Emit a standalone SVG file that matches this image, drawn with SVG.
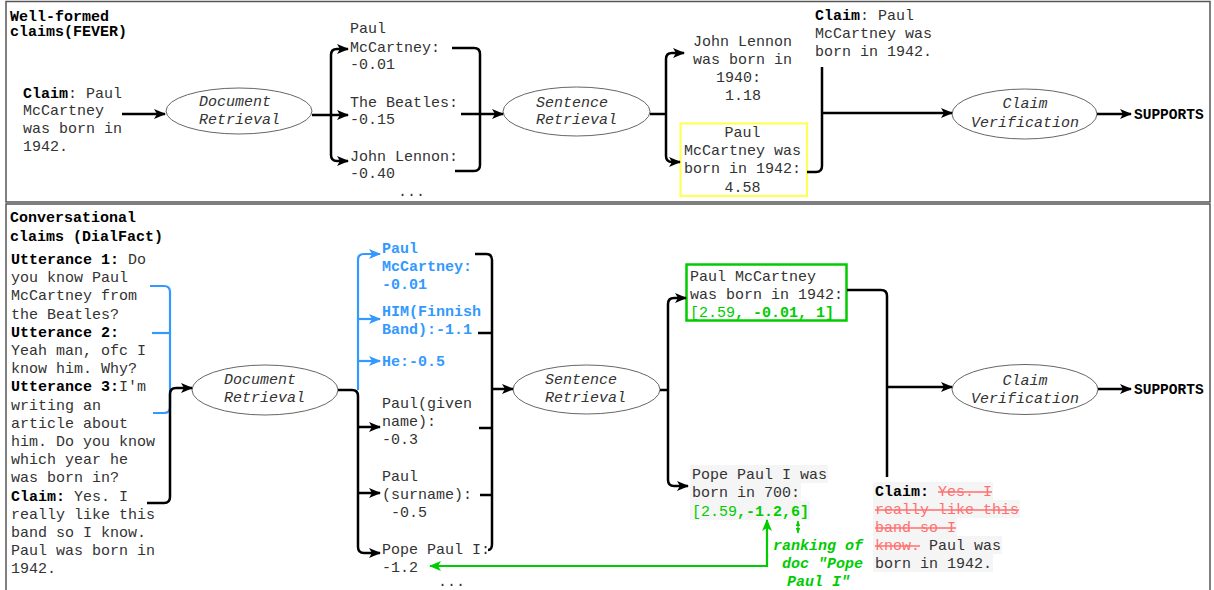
<svg xmlns="http://www.w3.org/2000/svg" width="1214" height="590" viewBox="0 0 1214 590">
<defs>
<style>
.t{font-family:"Liberation Mono","Courier New",monospace;font-size:15px;fill:#333}
.b{font-weight:bold;fill:#000}
.i{font-style:italic}
.bl{font-weight:bold;fill:#3399ff}
.gr{fill:#00cc00}
.gb{fill:#00cc00;font-weight:bold}
.rs{fill:#ff7070;text-decoration:line-through}
.hl{fill:#f5f5f5}
.el{fill:#fff;stroke:#666;stroke-width:1}
.c{fill:none;stroke:#000;stroke-width:2.5}
.cb{fill:none;stroke:#3399ff;stroke-width:2.2}
.cg{fill:none;stroke:#00cc00;stroke-width:2.2}
.frame{fill:#fff;stroke:#555;stroke-width:1.5}
</style>
<marker id="ah" viewBox="0 0 12 10" refX="11" refY="5" markerWidth="12" markerHeight="10" markerUnits="userSpaceOnUse" orient="auto"><path d="M0,0 L12,5 L0,10 L3,5 z" fill="#000"/></marker>
<marker id="ahb" viewBox="0 0 12 10" refX="11" refY="5" markerWidth="12" markerHeight="10" markerUnits="userSpaceOnUse" orient="auto"><path d="M0,0 L12,5 L0,10 L3,5 z" fill="#3399ff"/></marker>
<marker id="ahg" viewBox="0 0 12 10" refX="11" refY="5" markerWidth="12" markerHeight="10" markerUnits="userSpaceOnUse" orient="auto-start-reverse"><path d="M0,0 L12,5 L0,10 L3,5 z" fill="#00cc00"/></marker>
<marker id="ahgs" viewBox="0 0 8 6" refX="7" refY="3" markerWidth="6" markerHeight="5" markerUnits="userSpaceOnUse" orient="auto-start-reverse"><path d="M0,0 L8,3 L0,6 z" fill="#00cc00"/></marker>
</defs>
<rect x="0" y="0" width="1214" height="590" fill="#fff"/>
<rect class="frame" x="6" y="1.5" width="1204" height="200.5"/>
<rect class="frame" x="6" y="204" width="1204" height="400"/>

<!-- ===== Top panel ===== -->
<g id="title-top">
<text class="t b" x="10" y="21">Well-formed</text>
<text class="t b" x="10" y="36">claims(FEVER)</text>
</g>
<g id="claim-top">
<text class="t" x="23" y="97.5"><tspan class="b">Claim</tspan>: Paul</text>
<text class="t" x="23" y="115.3">McCartney</text>
<text class="t" x="23" y="133">was born in</text>
<text class="t" x="23" y="150.8">1942.</text>
</g>
<g id="doc-retrieval-top">
<ellipse class="el" cx="239" cy="111" rx="73" ry="23"/>
<text class="t i" x="199" y="106">Document</text>
<text class="t i" x="199" y="124">Retrieval</text>
</g>
<g id="docs-top">
<text class="t" x="350" y="33.3">Paul</text>
<text class="t" x="350" y="51.7">McCartney:</text>
<text class="t" x="350" y="69.3">-0.01</text>
<text class="t" x="350" y="106.7">The Beatles:</text>
<text class="t" x="350" y="124">-0.15</text>
<text class="t" x="350" y="160.7">John Lennon:</text>
<text class="t" x="350" y="178.3">-0.40</text>
<text class="t" x="398" y="196">...</text>
</g>
<g id="sent-retrieval-top">
<ellipse class="el" cx="576.5" cy="111.5" rx="73.5" ry="24.5"/>
<text class="t i" x="536" y="106.7">Sentence</text>
<text class="t i" x="536" y="124">Retrieval</text>
</g>
<g id="sent-lennon-top">
<text class="t" x="693" y="46">John Lennon</text>
<text class="t" x="693" y="64.3">was born in</text>
<text class="t" x="716" y="82">1940:</text>
<text class="t" x="725" y="100">1.18</text>
</g>
<g id="sent-mccartney-top">
<rect x="680.5" y="123.5" width="126.5" height="72.5" fill="none" stroke="#ffff5a" stroke-width="2.2"/>
<text class="t" x="742.5" y="136.7" text-anchor="middle">Paul</text>
<text class="t" x="742.5" y="155" text-anchor="middle">McCartney was</text>
<text class="t" x="742.5" y="173.3" text-anchor="middle">born in 1942:</text>
<text class="t" x="742.5" y="191.7" text-anchor="middle">4.58</text>
</g>
<g id="claim-top-right">
<text class="t" x="815" y="20"><tspan class="b">Claim</tspan>: Paul</text>
<text class="t" x="815" y="37.7">McCartney was</text>
<text class="t" x="815" y="55.7">born in 1942.</text>
</g>
<g id="claim-verification-top">
<ellipse class="el" cx="1024.5" cy="114" rx="72.5" ry="25"/>
<text class="t i" x="1025" y="108.3" text-anchor="middle">Claim</text>
<text class="t i" x="1025" y="127.3" text-anchor="middle">Verification</text>
</g>
<g id="supports-top">
<text class="t b" x="1134" y="118.5" style="font-size:14.5px">SUPPORTS</text>
</g>

<!-- ===== Bottom panel ===== -->
<g id="title-bottom">
<text class="t b" x="10" y="222">Conversational</text>
<text class="t b" x="10" y="240.5">claims (DialFact)</text>
</g>
<g id="dialogue">
<text class="t" x="11" y="264"><tspan class="b">Utterance 1:</tspan> Do</text>
<text class="t" x="11" y="282.2">you know Paul</text>
<text class="t" x="11" y="300.4">McCartney from</text>
<text class="t" x="11" y="318.6">the Beatles?</text>
<text class="t" x="11" y="336.8"><tspan class="b">Utterance 2:</tspan></text>
<text class="t" x="11" y="355">Yeah man, ofc I</text>
<text class="t" x="11" y="373.2">know him. Why?</text>
<text class="t" x="11" y="391.4"><tspan class="b">Utterance 3:</tspan>I'm</text>
<text class="t" x="11" y="409.6">writing an</text>
<text class="t" x="11" y="427.8">article about</text>
<text class="t" x="11" y="446">him. Do you know</text>
<text class="t" x="11" y="464.2">which year he</text>
<text class="t" x="11" y="482.4">was born in?</text>
<text class="t" x="11" y="500.6"><tspan class="b">Claim:</tspan> Yes. I</text>
<text class="t" x="11" y="518.8">really like this</text>
<text class="t" x="11" y="537">band so I know.</text>
<text class="t" x="11" y="555.2">Paul was born in</text>
<text class="t" x="11" y="573.4">1942.</text>
</g>
<g id="doc-retrieval-bottom">
<ellipse class="el" cx="265" cy="390" rx="73" ry="25"/>
<text class="t i" x="224" y="384">Document</text>
<text class="t i" x="224" y="402">Retrieval</text>
</g>
<g id="docs-bottom">
<text class="t bl" x="382" y="253">Paul</text>
<text class="t bl" x="382" y="271">McCartney:</text>
<text class="t bl" x="382" y="289">-0.01</text>
<text class="t bl" x="382" y="316">HIM(Finnish</text>
<text class="t bl" x="382" y="334">Band):-1.1</text>
<text class="t bl" x="382" y="366">He:-0.5</text>
<text class="t" x="382" y="408">Paul(given</text>
<text class="t" x="382" y="426">name):</text>
<text class="t" x="382" y="444">-0.3</text>
<text class="t" x="382" y="481">Paul</text>
<text class="t" x="382" y="499">(surname):</text>
<text class="t" x="391" y="517">-0.5</text>
<text class="t" x="382" y="554">Pope Paul I:</text>
<text class="t" x="382" y="572">-1.2</text>
<text class="t" x="438" y="586">...</text>
</g>
<g id="sent-retrieval-bottom">
<ellipse class="el" cx="586.5" cy="389.5" rx="73.5" ry="24.5"/>
<text class="t i" x="545" y="384">Sentence</text>
<text class="t i" x="545" y="402">Retrieval</text>
</g>
<g id="sent-mccartney-bottom">
<rect x="686.5" y="264.5" width="160" height="56" fill="none" stroke="#00cc00" stroke-width="2.5"/>
<text class="t" x="690" y="281">Paul McCartney</text>
<text class="t" x="690" y="299">was born in 1942:</text>
<text class="t" x="690" y="317"><tspan class="gr">[2.59</tspan><tspan class="gb">, -0.01, 1]</tspan></text>
</g>
<g id="sent-pope-bottom">
<rect class="hl" x="690" y="465" width="138" height="18"/>
<rect class="hl" x="690" y="483" width="111" height="18"/>
<rect class="hl" x="690" y="501" width="120" height="19"/>
<text class="t" x="692" y="479">Pope Paul I was</text>
<text class="t" x="692" y="497">born in 700:</text>
<text class="t" x="692" y="515.5"><tspan class="gr">[2.59</tspan><tspan class="gb">,-1.2,6]</tspan></text>
</g>
<g id="ranking-note">
<text class="t gb i" x="773" y="550">ranking of</text>
<text class="t gb i" x="782" y="568">doc "Pope</text>
<text class="t gb i" x="787" y="586">Paul I"</text>
</g>
<g id="claim-bottom-right">
<rect class="hl" x="873" y="482" width="120" height="18"/>
<rect class="hl" x="873" y="500" width="147" height="18"/>
<rect class="hl" x="873" y="518" width="84" height="18"/>
<rect class="hl" x="873" y="536" width="129" height="18"/>
<rect class="hl" x="873" y="554" width="120" height="18"/>
<text class="t" x="875" y="496"><tspan class="b">Claim:</tspan> <tspan class="rs">Yes. I</tspan></text>
<text class="t" x="875" y="514"><tspan class="rs">really like this</tspan></text>
<text class="t" x="875" y="532"><tspan class="rs">band so I</tspan></text>
<text class="t" x="875" y="550"><tspan class="rs">know.</tspan> Paul was</text>
<text class="t" x="875" y="568">born in 1942.</text>
</g>
<g id="claim-verification-bottom">
<ellipse class="el" cx="1025" cy="389.5" rx="73" ry="25"/>
<text class="t i" x="1025" y="385" text-anchor="middle">Claim</text>
<text class="t i" x="1025" y="403" text-anchor="middle">Verification</text>
</g>
<g id="supports-bottom">
<text class="t b" x="1134" y="394" style="font-size:14.5px">SUPPORTS</text>
</g>

<!-- ===== Connectors ===== -->
<g id="connectors">
<!-- top -->
<path class="c" d="M122,114 H165" marker-end="url(#ah)"/>
<path class="c" d="M312,115 H348" marker-end="url(#ah)"/>
<path class="c" d="M331,115 V55 Q331,49 337,49 H348" marker-end="url(#ah)"/>
<path class="c" d="M331,115 V155 Q331,161 337,161 H348" marker-end="url(#ah)"/>
<path class="c" d="M452,48 H474 Q480,48 480,54 V165 Q480,171 474,171 H455"/>
<path class="c" d="M461,114 H503" marker-end="url(#ah)"/>
<path class="c" d="M650,114 H666"/>
<path class="c" d="M666,114 V59 Q666,53 672,53 H684" marker-end="url(#ah)"/>
<path class="c" d="M666,114 V156 Q666,162 672,162 H680" marker-end="url(#ah)"/>
<path class="c" d="M807,172 H816 Q822,172 822,166 V67"/>
<path class="c" d="M822,113 H952" marker-end="url(#ah)"/>
<path class="c" d="M1097,114 H1131" marker-end="url(#ah)"/>
<!-- bottom -->
<path class="cb" d="M150,286 H164 Q170,286 170,292 V407 Q170,413 164,413 H153"/>
<path class="cb" d="M152,333 H170"/>
<path class="c" d="M147,503 H164 Q170,503 170,497 V394 Q170,388 176,388 H192" marker-end="url(#ah)"/>
<path class="cb" d="M358,390 V260 Q358,254 364,254 H380" marker-end="url(#ahb)"/>
<path class="cb" d="M358,319 H380" marker-end="url(#ahb)"/>
<path class="cb" d="M358,361 H380" marker-end="url(#ahb)"/>
<path class="c" d="M338,390 H352 Q358,390 358,396 V547 Q358,553 364,553 H380" marker-end="url(#ah)"/>
<path class="c" d="M358,427 H380" marker-end="url(#ah)"/>
<path class="c" d="M358,493 H380" marker-end="url(#ah)"/>
<path class="c" d="M475,254 H486 Q492,254 492,260 V544 Q492,550 488,550"/>
<path class="c" d="M478,333 H492"/>
<path class="c" d="M479,428 H492"/>
<path class="c" d="M480,495 H492"/>
<path class="c" d="M492,389 H513" marker-end="url(#ah)"/>
<path class="c" d="M660,390 H668"/>
<path class="c" d="M668,390 V304 Q668,298 674,298 H686" marker-end="url(#ah)"/>
<path class="c" d="M668,390 V480 Q668,486 674,486 H688" marker-end="url(#ah)"/>
<path class="c" d="M847,290 H881 Q887,290 887,296 V477"/>
<path class="c" d="M887,387 H952" marker-end="url(#ah)"/>
<path class="c" d="M1098,389 H1131" marker-end="url(#ah)"/>
<path class="cg" d="M430,566 H767 V520" marker-start="url(#ahg)" marker-end="url(#ahg)"/>
<path fill="none" stroke="#00cc00" stroke-width="1.2" d="M798,521 V533" marker-start="url(#ahgs)" marker-end="url(#ahgs)"/>
</g>
</svg>
